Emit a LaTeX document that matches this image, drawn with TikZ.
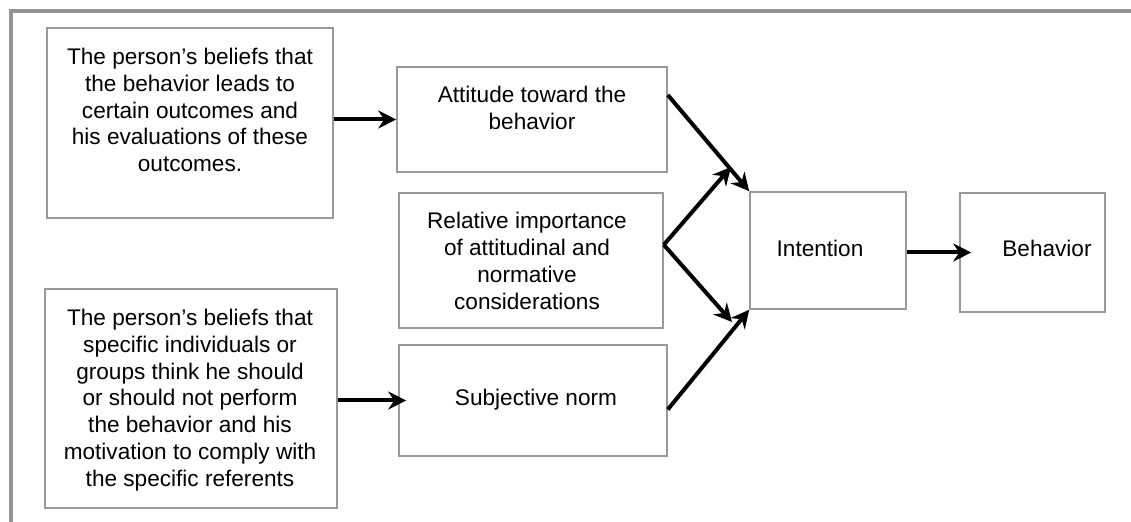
\documentclass[tikz,border=0pt]{standalone}
\usepackage{fontspec}
\setmainfont{Liberation Sans}
\usetikzlibrary{arrows.meta,fit,calc}

\begin{document}
\begin{tikzpicture}[x=0.5pt,y=-0.5pt,
  box/.style={draw=black!40, line width=0.8pt, inner sep=0pt, fill=none},
  txt/.style={align=center, inner sep=0pt, font=\fontsize{11.3pt}{13.4pt}\selectfont},
  flow/.style={draw=black, line width=2pt,
    -{Stealth[length=9pt,width=9pt,inset=3pt]}},
  frame/.style={draw=black!42, line width=2pt}]

\useasboundingbox (0,0) rectangle (1131,522);

% outer frame: only the top and left edges are visible
\draw[frame] (11,522) -- (11,11) -- (1131,11);

% boxes
\node[box, fit={(47,28) (333,218)}] (b1) {};
\node[box, fit={(397,67) (667,172)}] (att) {};
\node[box, fit={(399,193) (663,328)}] (rel) {};
\node[box, fit={(399,345) (667,456)}] (subj) {};
\node[box, fit={(45,289) (337,508)}] (b2) {};
\node[box, fit={(750,192) (906,309)}] (int) {};
\node[box, fit={(960,193) (1105,312)}] (beh) {};

% labels
\node[txt] (b1t) at (190,110) {The person’s beliefs that\\the behavior leads to\\certain outcomes and\\his evaluations of these\\outcomes.};
\node[txt] (attt) at (532,108) {Attitude toward the\\behavior};
\node[txt] (relt) at (527,261) {Relative importance\\of attitudinal and\\normative\\considerations};
\node[txt] (subjt) at (536,400) {Subjective norm};
\node[txt] (b2t) at (190,400) {The person’s beliefs that\\specific individuals or\\groups think he should\\or should not perform\\the behavior and his\\motivation to comply with\\the specific referents};
\node[txt] (intt) at (820,248) {Intention};
\node[txt] (beht) at (1047,248) {Behavior};

% connector end points
\coordinate (attout) at ($(att.north east)!0.27!(att.south east)$);
\coordinate (relout) at ($(rel.north east)!0.385!(rel.south east)$);
\coordinate (subjout) at ($(subj.north east)!0.58!(subj.south east)$);
\coordinate (relup) at (731,167);
\coordinate (reldown) at (732,322);

% connectors
\draw[flow] (b1.east |- att.west) -- (att.west);
\draw[flow, shorten >=-4pt] (b2.east |- subj.west) -- (subj.west);
\draw[flow] (attout) -- (int.north west);
\draw[flow] (relout) -- (relup);
\draw[flow] (relout) -- (reldown);
\draw[flow] (subjout) -- (int.south west);
\draw[flow, shorten >=-6pt] (int.east |- beh.west) -- (beh.west);

\end{tikzpicture}
\end{document}
